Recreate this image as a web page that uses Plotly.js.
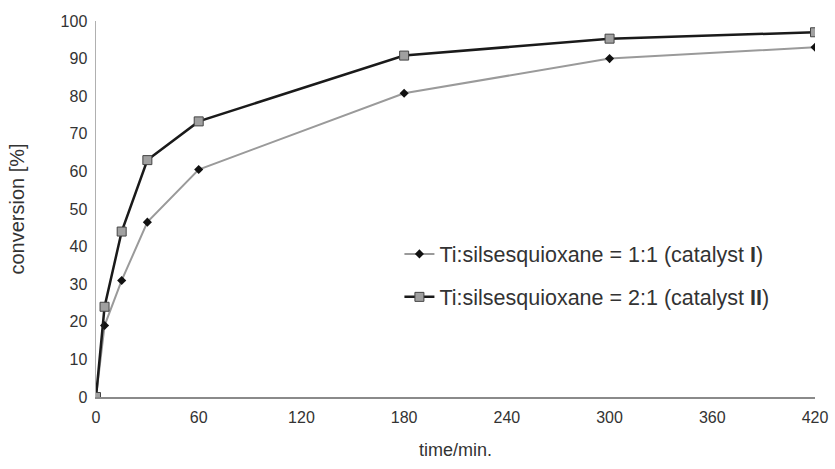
<!DOCTYPE html>
<html>
<head>
<meta charset="utf-8">
<script src="https://cdn.plot.ly/plotly-3.0.1.min.js"></script>
<style>html,body{margin:0;padding:0;background:#fff;}#chart{width:835px;height:469px;}</style>
</head>
<body>
<div id="chart"></div>
<script>
const time = [0, 5, 15, 30, 60, 180, 300, 420];
const catalystI = [0, 19, 31, 46.5, 60.5, 80.8, 90, 93];
const catalystII = [0, 24, 44, 63, 73.3, 90.8, 95.3, 97];
const seriesNames = [
  'Ti:silsesquioxane = 1:1 (catalyst <b>I</b>)',
  'Ti:silsesquioxane = 2:1 (catalyst <b>II</b>)'
];
const xTicks = [0, 60, 120, 180, 240, 300, 360, 420];
const yTicks = [0, 10, 20, 30, 40, 50, 60, 70, 80, 90, 100];

const traces = [
  {
    x: time, y: catalystI, name: seriesNames[0], type: 'scatter', mode: 'lines+markers',
    line: {color: '#9a9a9a', width: 2},
    marker: {symbol: 'diamond', size: 7, color: '#111'},
    legendgroup: 'a'
  },
  {
    x: time, y: catalystII, name: seriesNames[1], type: 'scatter', mode: 'lines+markers',
    line: {color: '#1a1a1a', width: 2.5},
    marker: {symbol: 'square', size: 9, color: '#a0a0a0', line: {color: '#444', width: 1}},
    legendgroup: 'b'
  }
];

const layout = {
  width: 835, height: 469,
  margin: {l: 96, r: 20, t: 21, b: 72},
  paper_bgcolor: '#fff', plot_bgcolor: '#fff',
  font: {family: '"Liberation Sans", Arial, sans-serif', color: '#333', size: 16},
  showlegend: true,
  legend: {
    x: 0.422, y: 0.435, xanchor: 'left', yanchor: 'top',
    font: {size: 21.5, color: '#333'},
    tracegroupgap: 12, traceorder: 'grouped',
    bgcolor: 'rgba(0,0,0,0)'
  },
  xaxis: {
    range: [0, 420], tickvals: xTicks, ticktext: xTicks.map(String),
    showgrid: false, zeroline: false, showline: true, linecolor: '#8a8a8a', linewidth: 1.5,
    ticks: '', ticklen: 0, ticklabelstandoff: 5,
    tickfont: {size: 16, color: '#333'},
    title: {text: 'time/min.', font: {size: 18, color: '#333'}, standoff: 18}
  },
  yaxis: {
    range: [0, 100], tickvals: yTicks, ticktext: yTicks.map(String),
    showgrid: false, zeroline: false, showline: true, linecolor: '#b0b0b0', linewidth: 1.5,
    ticks: '', ticklen: 0, ticklabelstandoff: 4,
    tickfont: {size: 16, color: '#333'},
    title: {text: 'conversion [%]', font: {size: 20, color: '#333'}, standoff: 30}
  }
};

Plotly.newPlot('chart', traces, layout, {displayModeBar: false, staticPlot: true});
</script>
</body>
</html>
